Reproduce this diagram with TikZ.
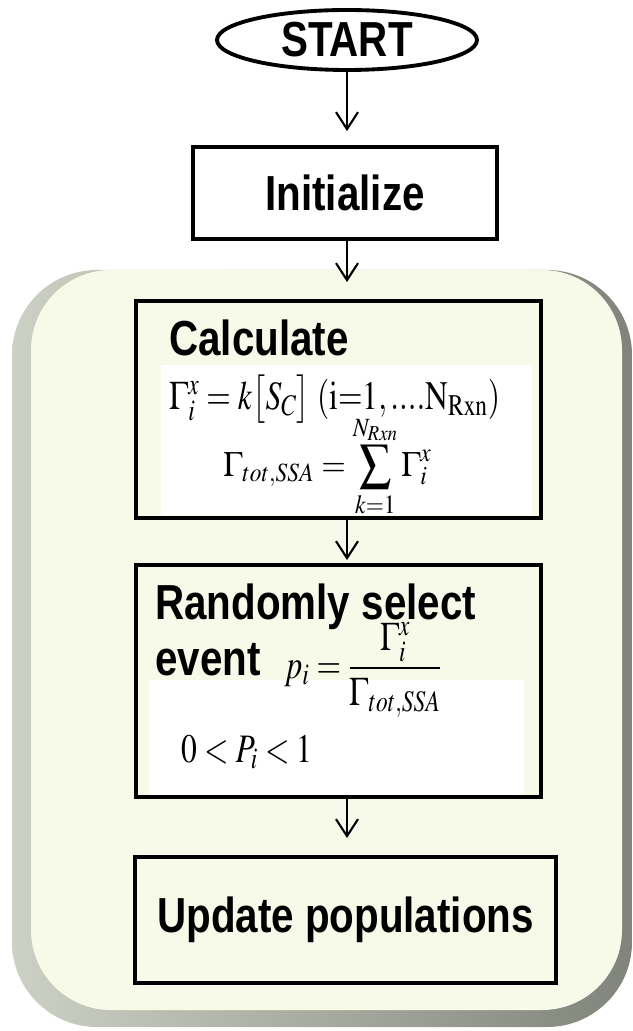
\documentclass[tikz,border=0pt]{standalone}
\usepackage{amsmath}
\usepackage{mathptmx}
\usepackage{fontspec}
\newfontfamily\boxfont[FakeStretch=0.82]{Liberation Sans}
\usepackage{tikz}
\usetikzlibrary{arrows.meta,shapes.geometric}
\definecolor{pale}{RGB}{247,250,233}
\definecolor{rimlight}{RGB}{205,208,196}
\definecolor{rimdark}{RGB}{128,132,122}

\begin{document}
\begin{tikzpicture}[
  stepbox/.style={draw, line width=2.2pt, inner sep=0pt},
  title/.style={font=\boxfont\bfseries\fontsize{28}{32}\selectfont, inner sep=0pt},
  formula/.style={font=\fontsize{23}{28}\selectfont, inner sep=0pt, xscale=0.78},
  flow/.style={-{Straight Barb[length=0.34cm,width=0.44cm]}, line width=1.2pt}
]
\useasboundingbox (0,0) rectangle (12.64,-20.62);

% loop panel
\shade[left color=rimlight, right color=rimdark, rounded corners=1.7cm] (0.24,-5.40) rectangle (12.64,-20.54);
\fill[pale, rounded corners=1.6cm] (0.62,-5.40) rectangle (12.44,-20.20);
\fill[white] (3.22,-7.30) rectangle (10.64,-10.30);
\fill[white] (2.98,-13.60) rectangle (10.48,-15.94);

\node[ellipse, draw, line width=2.2pt, minimum width=5.2cm, minimum height=1.2cm, inner sep=0pt,
      font=\boxfont\bfseries\fontsize{28}{32}\selectfont] (start) at (6.94,-0.80) {START};
\node[stepbox, title, minimum width=6.08cm, minimum height=1.84cm] (init) at (6.90,-3.86) {Initialize};
\node[stepbox, minimum width=8.10cm, minimum height=4.34cm] (calc) at (6.77,-8.19) {};
\node[stepbox, minimum width=8.10cm, minimum height=4.64cm] (rand) at (6.77,-13.62) {};
\node[stepbox, title, minimum width=8.42cm, minimum height=2.52cm] (update) at (6.91,-18.40) {Update populations};

% calculate
\node[title, anchor=base west] (calclbl) at (3.38,-7.10) {Calculate};
\node[formula, anchor=base west] (rate) at (3.38,-8.18) {$\Gamma_i^x = k\bigl[S_C\bigr]\;\mathrm{(i{=}1,....N_{Rxn})}$};
\node[formula, anchor=base, yscale=0.88] (total) at (6.55,-9.52) {$\displaystyle\Gamma_{tot,SSA} = \sum_{k=1}^{N_{Rxn}}\Gamma_i^x$};

% select
\node[title, anchor=base west] (randlbl) at (3.10,-12.38) {Randomly select};
\node[title, anchor=base west] (eventlbl) at (3.10,-13.50) {event};
\node[formula, anchor=base west] (prob) at (5.68,-13.56) {$p_i = \dfrac{\Gamma_i^x}{\Gamma_{tot,SSA}}$};
\node[formula, anchor=base west] (range) at (3.62,-15.24) {$0 < P_i < 1$};

\draw[flow, shorten >=0.28cm] (start.south) -- (start.south |- init.north);
\draw[flow, shorten >=0.34cm] (init.south -| start) -- (calc.north -| start);
\draw[flow, shorten >=0.06cm] (calc.south -| start) -- (rand.north -| start);
\draw[flow, shorten >=0.34cm] (rand.south -| start) -- (update.north -| start);
\end{tikzpicture}
\end{document}
